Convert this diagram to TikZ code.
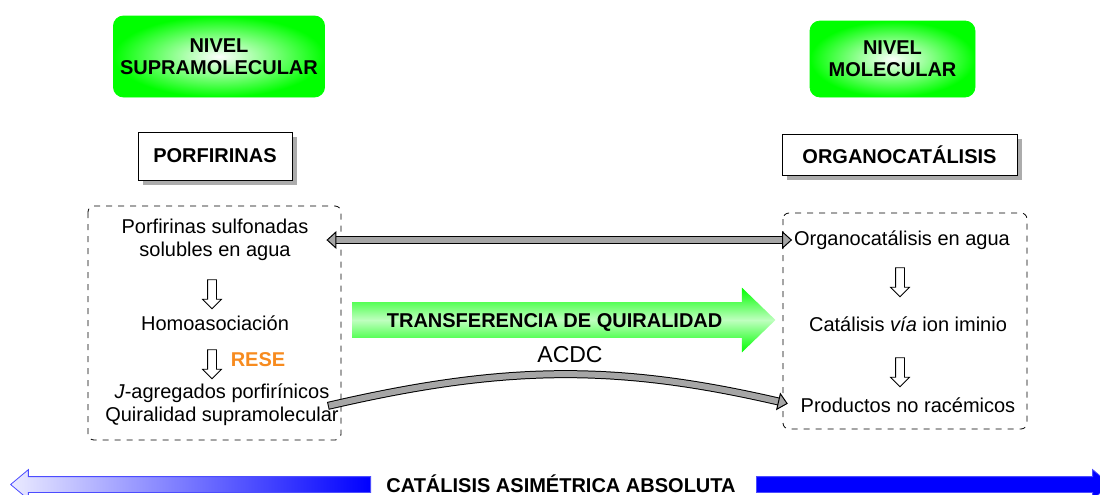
\documentclass[tikz,border=0pt]{standalone}
\usepackage{fontspec}
\setmainfont{Liberation Sans}
\usetikzlibrary{positioning, arrows.meta, shapes.arrows, shadows}

\definecolor{vivo}{RGB}{0,255,0}
\definecolor{azul}{RGB}{0,0,255}
\definecolor{naranja}{RGB}{247,139,31}

\begin{document}
\begin{tikzpicture}[
    x=0.5pt, y=-0.5pt,
    font=\fontsize{10}{11.5}\selectfont,
    nivel/.style={
        rectangle,
        rounded corners=5pt,
        draw=vivo,
        inner color=white,
        outer color=vivo,
        font=\fontsize{10}{11}\selectfont\bfseries,
        align=center
    },
    tema/.style={
        rectangle,
        draw=black,
        fill=white,
        font=\bfseries,
        drop shadow={shadow xshift=2.5pt, shadow yshift=-2.5pt, fill=gray!65, opacity=1}
    },
    txt/.style={align=center},
    marco/.style={dashed, rounded corners=3pt},
    bajada/.style={
        single arrow,
        draw=black,
        fill=white,
        shape border rotate=270,
        inner sep=2pt,
        single arrow head extend=2.5pt,
        single arrow tip angle=90,
        minimum height=14.5pt
    },
    bloque/.style={
        single arrow,
        draw=azul!70,
        line width=0.4pt,
        single arrow tip angle=80,
        single arrow head extend=3.5pt,
        inner sep=3.75pt,
        minimum height=180pt
    },
    enlace/.style={
        line width=0.5pt,
        double=gray!70,
        double distance=3pt,
        line cap=rect
    },
    punta/.tip={Triangle[width=9pt, length=5pt, fill=gray!70, line width=0.5pt]}
]

% --- Marco de fondo ---
\useasboundingbox (0,0) rectangle (1100,494);

% --- Niveles ---
\node[nivel, minimum width=102pt, minimum height=40.5pt] (supra) at (219,56.5) {NIVEL\\SUPRAMOLECULAR};
\node[nivel, minimum width=82.5pt, minimum height=38pt] (mole) at (892.5,59) {NIVEL\\MOLECULAR};

% --- Temas ---
\node[tema, minimum width=77pt, minimum height=24pt] (porf) at (215,156) {PORFIRINAS};
\node[tema, minimum width=117.5pt, minimum height=20.5pt] (orga) at (899.5,154.5) {ORGANOCATÁLISIS};

% --- Recuadros ---
\draw[marco] (88,206) rectangle (341,440);
\draw[marco] (783,213) rectangle (1027,429);

% --- Lado porfirinas ---
\node[txt] (sulf) at (215,240) {Porfirinas sulfonadas\\solubles en agua};
\node[bajada] (baja1) at (212,292) {};
\node[txt] (homo) at (215,323) {Homoasociación};
\node[bajada] (baja2) at (212,362) {};
\node[font=\bfseries, text=naranja] (rese) at (258,360) {RESE};
\node[txt] (jagg) at (222,405) {\textit{J}-agregados porfirínicos\\Quiralidad supramolecular};

% --- Lado organocatalisis ---
\node[txt] (orgw) at (902,240) {Organocatálisis en agua};
\node[bajada] (baja3) at (900,280) {};
\node[txt] (imin) at (908,324) {Catálisis \textit{vía} ion iminio};
\node[bajada] (baja4) at (900,370) {};
\node[txt] (prod) at (908,405) {Productos no racémicos};

% --- Transferencia ---
\node[single arrow, anchor=tail, top color=vivo, bottom color=vivo, middle color=vivo!25,
      single arrow tip angle=88, single arrow head extend=7.25pt,
      text height=7.5pt, text depth=0pt, inner ysep=5pt, minimum height=211.5pt,
      font=\bfseries] (trans) at (352,320) {TRANSFERENCIA DE QUIRALIDAD};
\node[font=\fontsize{11.5}{13}\selectfont] (acdc) at (570,355) {ACDC};

% --- Conectores ---
\draw[enlace, punta-punta, shorten <=5.5pt, shorten >=-2.5pt] (sulf.east) -- (orgw.west);
\draw[enlace, -punta, shorten >=3pt] ([xshift=-7pt]jagg.east) to[out=13, in=167] (prod.west);

% --- Catalisis asimetrica absoluta ---
\node[bloque, shape border rotate=180, anchor=tip, left color=azul!8, right color=azul] (izq) at (10,484.5) {};
\node[bloque, anchor=tail, minimum height=177pt, left color=azul, middle color=white, right color=azul] (der) at (756,484.5) {};
\node[font=\bfseries] (cat) at (561,483.5) {CATÁLISIS ASIMÉTRICA ABSOLUTA};

\end{tikzpicture}
\end{document}
